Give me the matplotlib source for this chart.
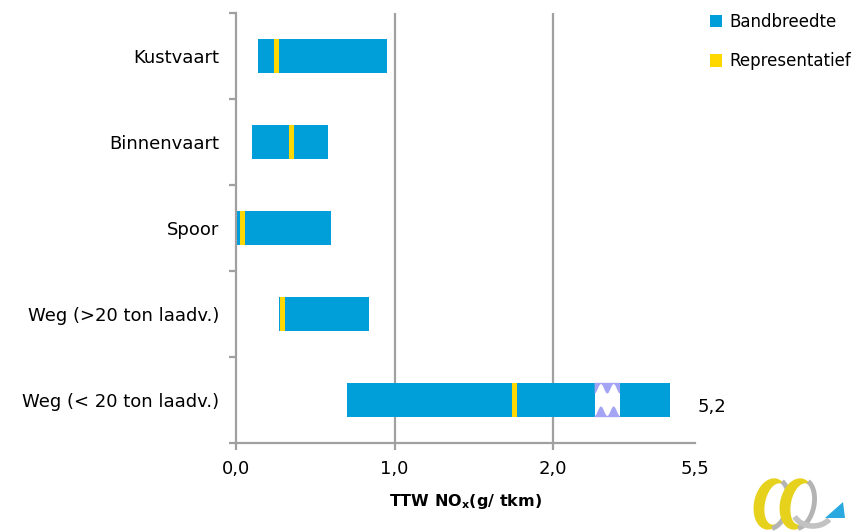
import numpy as np
import matplotlib
matplotlib.use("Agg")
import matplotlib.pyplot as plt
from matplotlib.patches import Polygon, Rectangle, Arc, Ellipse
from matplotlib.scale import FuncScale

plt.rcParams['font.family'] = ['DejaVu Sans']

# --- data -------------------------------------------------------------
categories = ["Kustvaart", "Binnenvaart", "Spoor",
              "Weg (>20 ton laadv.)", "Weg (< 20 ton laadv.)"]
band_low = [0.14, 0.10, 0.008, 0.27, 0.70]
band_high = [0.95, 0.58, 0.60, 0.84, 5.2]
representative = [0.255, 0.35, 0.042, 0.293, 1.754]
x_ticks = [0.0, 1.0, 2.0, 5.5]
x_ticklabels = ["0,0", "1,0", "2,0", "5,5"]
end_label = "5,2"

BLUE = "#009FD9"
YELLOW = "#FFD800"
GRID = "#A0A0A0"
BREAK_EDGE = "#A4A4F4"

# --- broken x scale: linear up to 2.26, compressed gap, then shrunk tail
B0, B1 = 2.26, 4.6          # real values at the start / end of the gap
G1 = 2.42                   # axis position where the tail starts
K = 0.525                   # tail compression


def fwd(v):
    v = np.asarray(v, dtype=float)
    mid = B0 + (v - B0) * (G1 - B0) / (B1 - B0)
    tail = G1 + (v - B1) * K
    return np.where(v <= B0, v, np.where(v >= B1, tail, mid))


def inv(d):
    d = np.asarray(d, dtype=float)
    mid = B0 + (d - B0) * (B1 - B0) / (G1 - B0)
    tail = B1 + (d - G1) / K
    return np.where(d <= B0, d, np.where(d >= G1, tail, mid))


fig = plt.figure(figsize=(8.63, 5.32), dpi=100)
ax = fig.add_axes([236 / 863, 89 / 532, (695 - 236) / 863, (519 - 89) / 532])
ax.set_xscale(FuncScale(ax, (fwd, inv)))

y = np.arange(len(categories))
bar_h = 0.4
rep_w = 0.028

low = np.array(band_low)
high = np.array(band_high)
rep = np.array(representative)

ax.barh(y, high - low, left=low, height=bar_h, color=BLUE, zorder=3,
        label="Bandbreedte")
ax.barh(y, rep_w, left=rep - rep_w / 2, height=bar_h, color=YELLOW,
        zorder=4, label="Representatief")

# axis-break marker across the long bar: white gap with wavy edges
yb = y[-1]
top, bot = yb - bar_h / 2, yb + bar_h / 2
ax.add_patch(Rectangle((B0, top), B1 - B0, bar_h, facecolor="white",
                       edgecolor="none", zorder=5))
t = np.linspace(0, 1, 41)
xs = B0 + t * (B1 - B0)
amp = 0.11
wave_top = top + 0.015 + amp * (1 + np.cos(4 * np.pi * t)) / 2
wave_bot = bot - 0.015 - amp * (1 - np.cos(4 * np.pi * t)) / 2
ax.add_patch(Polygon(np.column_stack([np.r_[B0, xs, B1], np.r_[top, wave_top, top]]),
                     closed=True, facecolor=BREAK_EDGE, edgecolor="none", zorder=6))
ax.add_patch(Polygon(np.column_stack([np.r_[B0, xs, B1], np.r_[bot, wave_bot, bot]]),
                     closed=True, facecolor=BREAK_EDGE, edgecolor="none", zorder=6))

ax.annotate(end_label, xy=(high[-1], yb), xytext=(20, -5),
            textcoords="offset points", va="center", ha="left",
            fontsize=13, annotation_clip=False)

# vertical gridlines
for gx in (1.0, 2.0):
    ax.axvline(gx, color=GRID, lw=1.6, zorder=1)

ax.set_xlim(0, 5.5)
ax.set_ylim(len(categories) - 0.5, -0.5)

ax.set_xticks(x_ticks)
ax.set_xticklabels(x_ticklabels, fontsize=13)
ax.tick_params(axis="x", length=5, width=1.6, color=GRID, pad=7)
ax.xaxis.get_major_ticks()[-1].tick1line.set_visible(False)

ax.set_yticks(y)
ax.set_yticklabels(categories, fontsize=13)
ax.set_yticks(np.arange(-0.5, len(categories)), minor=True)
ax.tick_params(axis="y", which="major", length=0, pad=12)
ax.tick_params(axis="y", which="minor", length=5, width=1.6, color=GRID)

for side in ("top", "right"):
    ax.spines[side].set_visible(False)
for side in ("left", "bottom"):
    ax.spines[side].set_color(GRID)
    ax.spines[side].set_linewidth(1.6)

ax.set_xlabel("TTW NO$_\\mathregular{x}$(g/ tkm)", fontsize=11.5,
              fontweight="bold", labelpad=10)

fig.legend(loc="upper left", bbox_to_anchor=(703 / 863, 1 - 6 / 532),
           frameon=False, fontsize=12, handlelength=0.75, handleheight=0.75,
           handletextpad=0.45, labelspacing=1.3, borderaxespad=0)

# small logo mark in the lower-right corner
lax = fig.add_axes([745 / 863, 0, 110 / 863, 58 / 532])
lax.set_xlim(0, 110)
lax.set_ylim(0, 58)
lax.set_aspect("equal")
lax.axis("off")
for cx in (26, 52):
    lax.add_patch(Ellipse((cx, 28), 34, 52, angle=-12, facecolor="#E6D21C",
                          edgecolor="none"))
    lax.add_patch(Ellipse((cx + 5, 28), 22, 42, angle=-12, facecolor="white",
                          edgecolor="none"))
    lax.add_patch(Arc((cx + 2, 28), 30, 50, angle=-12, theta1=-80, theta2=80,
                      edgecolor="#B4B4B4", lw=3.5))
lax.add_patch(Arc((68, 22), 40, 32, angle=0, theta1=200, theta2=330,
                  edgecolor="#C2C2C2", lw=4))
lax.add_patch(Polygon([(80, 14), (100, 14), (98, 30)], closed=True,
                      facecolor="#2AA8E0", edgecolor="none"))

fig.savefig("out.png", dpi=100)
